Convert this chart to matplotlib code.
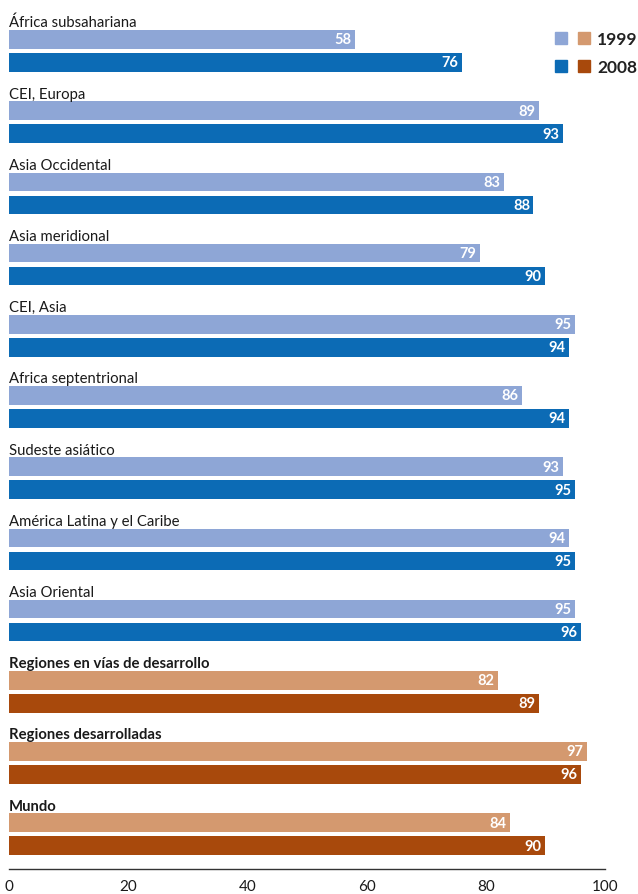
import matplotlib
matplotlib.use("Agg")
import matplotlib.pyplot as plt
from matplotlib.patches import Rectangle

regions = ["África subsahariana", "CEI, Europa", "Asia Occidental", "Asia meridional",
           "CEI, Asia", "Africa septentrional", "Sudeste asiático",
           "América Latina y el Caribe", "Asia Oriental",
           "Regiones en vías de desarrollo", "Regiones desarrolladas", "Mundo"]
v1999 = [58, 89, 83, 79, 95, 86, 93, 94, 95, 82, 97, 84]
v2008 = [76, 93, 88, 90, 94, 94, 95, 95, 96, 89, 96, 90]
aggregate = [False] * 9 + [True] * 3
xticks = [0, 20, 40, 60, 80, 100]

blue_light = "#8ea6d6"
blue_dark = "#0c6bb5"
tan_light = "#d4996f"
tan_dark = "#a8490c"

plt.rcParams['font.family'] = ['Lato', 'DejaVu Sans']

W, H = 638, 895
axis_px = 870
fig = plt.figure(figsize=(W / 100, H / 100), dpi=100)
ax = fig.add_axes([9 / W, (H - axis_px) / H, 596 / W, axis_px / H])

step = 71.2          # pixels per group
first = 40.5         # pixel centre of first bar
top = -first / step
bottom = (axis_px - first) / step
bh = 18.5 / step
off2 = 23 / step
lab = 13 / step

for i, name in enumerate(regions):
    c1 = tan_light if aggregate[i] else blue_light
    c2 = tan_dark if aggregate[i] else blue_dark
    y1 = i
    y2 = i + off2
    ax.barh(y1, v1999[i], height=bh, color=c1, left=0)
    ax.barh(y2, v2008[i], height=bh, color=c2, left=0)
    ax.text(0, i - lab, name, ha="left", va="baseline", fontsize=10.7,
            fontweight="bold" if aggregate[i] else "normal", color="#1a1a1a")
    ax.text(v1999[i] - 0.6, y1, str(v1999[i]), ha="right", va="center",
            fontsize=10.5, fontweight="bold", color="white")
    ax.text(v2008[i] - 0.6, y2, str(v2008[i]), ha="right", va="center",
            fontsize=10.5, fontweight="bold", color="white")

ax.set_xlim(0, 100)
ax.set_ylim(bottom, top)
for s in ["top", "right", "left"]:
    ax.spines[s].set_visible(False)
ax.spines["bottom"].set_color("#333333")
ax.spines["bottom"].set_linewidth(1.0)
ax.set_yticks([])
ax.set_xticks(xticks)
ax.set_xticklabels([str(t) for t in xticks], fontsize=11, color="#1a1a1a")
ax.tick_params(axis="x", length=0, pad=7)

# legend
def px_rect(x, y, w, h, color):
    fig.add_artist(Rectangle((x / W, 1 - (y + h) / H), w / W, h / H,
                             transform=fig.transFigure, color=color))

px_rect(555, 33, 12, 12, blue_light)
px_rect(578, 33, 12, 12, tan_light)
px_rect(555, 61, 12, 12, blue_dark)
px_rect(578, 61, 12, 12, tan_dark)
fig.text(597 / W, 1 - 40 / H, "1999", ha="left", va="center", fontsize=12.5,
         fontweight="bold", color="#222222")
fig.text(597 / W, 1 - 68 / H, "2008", ha="left", va="center", fontsize=12.5,
         fontweight="bold", color="#222222")

fig.savefig("out.png", dpi=100)
